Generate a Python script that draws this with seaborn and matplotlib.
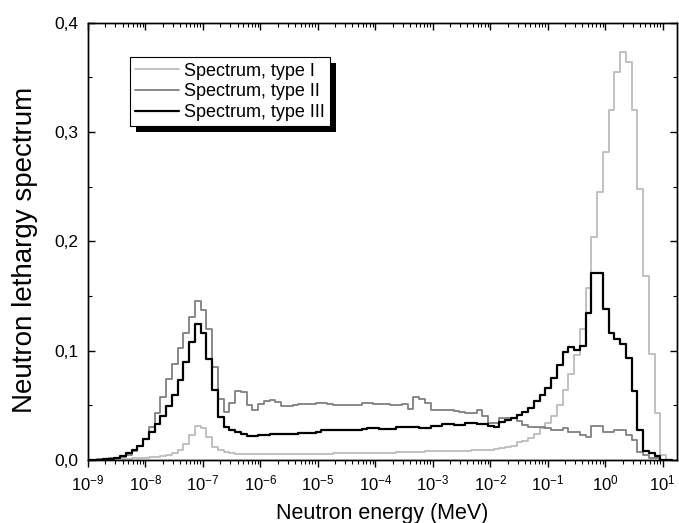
import numpy as np
import pandas as pd
import matplotlib
matplotlib.use("Agg")
import matplotlib.pyplot as plt
import matplotlib.ticker as mticker
from matplotlib.patches import Rectangle
import seaborn as sns

# ---- data: lethargy spectra, 10 groups per decade ----
first_edge = -9.04      # log10(E/MeV) of the first group boundary
group_width = 0.1       # decades per group

spec_type1 = [
    0.0, 0.0, 0.0002, 0.0004, 0.0006, 0.0008, 0.001, 0.0012, 0.0015, 0.0018,
    0.002, 0.0025, 0.003, 0.0037, 0.0045, 0.006, 0.009, 0.015, 0.023, 0.031,
    0.029, 0.021, 0.012, 0.009, 0.007, 0.0062, 0.0058, 0.0055, 0.0054, 0.0054,
    0.0054, 0.0054, 0.0055, 0.0055, 0.0055, 0.0056, 0.0056, 0.0056, 0.0057, 0.0057,
    0.0058, 0.0058, 0.0059, 0.006, 0.006, 0.0061, 0.0062, 0.0062, 0.0063, 0.0064,
    0.0065, 0.0066, 0.0067, 0.0068, 0.0069, 0.007, 0.0072, 0.0074, 0.0076, 0.0078,
    0.008, 0.0081, 0.0082, 0.0083, 0.0084, 0.0085, 0.0086, 0.0087, 0.0088, 0.009,
    0.0095, 0.0098, 0.011, 0.0115, 0.013, 0.016, 0.017, 0.020, 0.024, 0.029,
    0.034, 0.040, 0.050, 0.064, 0.079, 0.096, 0.120, 0.157, 0.204, 0.245,
    0.282, 0.320, 0.355, 0.373, 0.364, 0.320, 0.248, 0.168, 0.097, 0.043,
    0.005, 0.0,
]
spec_type2 = [
    0.0, 0.0003, 0.0006, 0.001, 0.0015, 0.002, 0.003, 0.005, 0.008, 0.013,
    0.019, 0.030, 0.043, 0.058, 0.074, 0.088, 0.102, 0.116, 0.131, 0.145,
    0.137, 0.120, 0.085, 0.056, 0.044, 0.052, 0.063, 0.062, 0.050, 0.046,
    0.051, 0.054, 0.055, 0.053, 0.049, 0.049, 0.050, 0.051, 0.051, 0.051,
    0.052, 0.052, 0.051, 0.050, 0.050, 0.050, 0.050, 0.050, 0.052, 0.052,
    0.051, 0.051, 0.051, 0.050, 0.050, 0.051, 0.047, 0.058, 0.056, 0.052,
    0.046, 0.046, 0.046, 0.046, 0.045, 0.044, 0.043, 0.043, 0.046, 0.040,
    0.034, 0.034, 0.038, 0.038, 0.038, 0.036, 0.032, 0.030, 0.030, 0.030,
    0.029, 0.027, 0.027, 0.029, 0.026, 0.026, 0.023, 0.021, 0.031, 0.031,
    0.026, 0.026, 0.027, 0.027, 0.023, 0.018, 0.007, 0.005, 0.002, 0.002,
    0.0, 0.0,
]
spec_type3 = [
    0.0, 0.0002, 0.0004, 0.0006, 0.001, 0.002, 0.004, 0.006, 0.009, 0.013,
    0.019, 0.026, 0.033, 0.040, 0.049, 0.059, 0.073, 0.090, 0.108, 0.124,
    0.116, 0.092, 0.064, 0.039, 0.030, 0.027, 0.026, 0.024, 0.022, 0.022,
    0.023, 0.023, 0.024, 0.024, 0.024, 0.024, 0.024, 0.025, 0.025, 0.025,
    0.026, 0.027, 0.027, 0.027, 0.027, 0.027, 0.027, 0.027, 0.028, 0.029,
    0.029, 0.028, 0.028, 0.028, 0.030, 0.030, 0.030, 0.030, 0.029, 0.029,
    0.031, 0.031, 0.033, 0.033, 0.032, 0.032, 0.034, 0.034, 0.033, 0.033,
    0.031, 0.030, 0.035, 0.037, 0.038, 0.041, 0.044, 0.048, 0.054, 0.059,
    0.066, 0.075, 0.087, 0.099, 0.103, 0.101, 0.104, 0.134, 0.171, 0.171,
    0.138, 0.116, 0.111, 0.106, 0.093, 0.063, 0.027, 0.008, 0.006, 0.004,
    0.0, 0.0,
]

series_names = ["Spectrum, type I", "Spectrum, type II", "Spectrum, type III"]
series_values = [spec_type1, spec_type2, spec_type3]
series_colors = {"Spectrum, type I": "#bcbcbc",
                 "Spectrum, type II": "#808080",
                 "Spectrum, type III": "#000000"}
series_widths = {"Spectrum, type I": 1.3,
                 "Spectrum, type II": 1.3,
                 "Spectrum, type III": 1.6}

# long-form table for seaborn (group boundaries + repeated last value for steps-post)
rows = []
for name, vals in zip(series_names, series_values):
    edges = 10 ** (first_edge + group_width * np.arange(len(vals) + 1))
    yv = list(vals) + [vals[-1]]
    for e, v in zip(edges, yv):
        rows.append({"energy": e, "value": v, "series": name})
df = pd.DataFrame(rows)

# ---- style ----
sns.set_style("ticks")
plt.rcParams['font.family'] = ['Liberation Sans', 'DejaVu Sans']
plt.rcParams['mathtext.default'] = 'regular'
plt.rcParams['axes.linewidth'] = 1.0
plt.rcParams['axes.edgecolor'] = 'black'
plt.rcParams['xtick.color'] = 'black'
plt.rcParams['ytick.color'] = 'black'
plt.rcParams['axes.labelcolor'] = 'black'
plt.rcParams['text.color'] = 'black'

fig = plt.figure(figsize=(6.79, 5.23), dpi=100)
ax = fig.add_axes([0.1296, 0.1205, 0.997 - 0.1296, 0.9566 - 0.1205])
ax.set_xscale('log')

sns.lineplot(data=df, x='energy', y='value', hue='series', palette=series_colors,
             size='series', sizes=series_widths, hue_order=series_names,
             estimator=None, sort=False, drawstyle='steps-post', legend=False, ax=ax)

xmin, xmax = 1e-9, 17.7
ax.set_xlim(xmin, xmax)
ax.set_ylim(0, 0.4)

# y axis: decimal comma labels
ax.yaxis.set_major_locator(mticker.MultipleLocator(0.1))
ax.yaxis.set_minor_locator(mticker.MultipleLocator(0.05))
ax.yaxis.set_major_formatter(mticker.FuncFormatter(lambda v, p: f"{v:.1f}".replace('.', ',')))

# x axis: decades
ax.xaxis.set_major_locator(mticker.LogLocator(base=10, numticks=20))
ax.xaxis.set_minor_locator(mticker.LogLocator(base=10, subs=np.arange(2, 10), numticks=20))
ax.xaxis.set_major_formatter(mticker.FuncFormatter(lambda v, p: f"$10^{{{int(round(np.log10(v)))}}}$"))
ax.xaxis.set_minor_formatter(mticker.NullFormatter())

ax.tick_params(axis='x', which='both', direction='out', top=False, labelsize=12, pad=5)
ax.tick_params(axis='x', which='major', length=5, width=1)
ax.tick_params(axis='x', which='minor', length=3, width=0.8)
ax.tick_params(axis='y', which='both', direction='in', left=True, right=True, labelsize=12.5, pad=7)
ax.tick_params(axis='y', which='major', length=5, width=1)
ax.tick_params(axis='y', which='minor', length=3, width=0.8)

# top axis: inward ticks, no labels
ax_top = ax.twiny()
ax_top.set_xscale('log')
ax_top.set_xlim(xmin, xmax)
ax_top.xaxis.set_major_locator(mticker.LogLocator(base=10, numticks=20))
ax_top.xaxis.set_minor_locator(mticker.LogLocator(base=10, subs=np.arange(2, 10), numticks=20))
ax_top.tick_params(axis='x', which='both', direction='in', labeltop=False)
ax_top.tick_params(axis='x', which='major', length=5, width=1)
ax_top.tick_params(axis='x', which='minor', length=3, width=0.8)

ax.set_xlabel('Neutron energy (MeV)', fontsize=15.5)
ax.set_ylabel('Neutron lethargy spectrum', fontsize=20)
ax.xaxis.set_label_coords(0.5, -0.098)
ax.yaxis.set_label_coords(-0.085, 0.48)

# legend with solid black drop shadow
handles = [plt.Line2D([], [], color=series_colors[n], lw=series_widths[n]) for n in series_names]
leg = ax.legend(handles, series_names, loc='upper left', bbox_to_anchor=(0.0713, 0.921),
                frameon=True, fancybox=False, framealpha=1, edgecolor='black',
                fontsize=13, borderpad=0.3, labelspacing=0.2, handlelength=2.4,
                handletextpad=0.3, borderaxespad=0)
leg.get_frame().set_linewidth(0.8)
leg.set_zorder(5)

fig.canvas.draw()
bb = leg.get_frame().get_window_extent().transformed(ax.transAxes.inverted())
dx = 6 / (ax.bbox.width)
dy = 6 / (ax.bbox.height)
shadow = Rectangle((bb.x0 + dx, bb.y0 - dy), bb.width, bb.height, transform=ax.transAxes,
                   facecolor='black', edgecolor='none', zorder=4.9)
ax.add_patch(shadow)

fig.savefig('out.png', dpi=100)
